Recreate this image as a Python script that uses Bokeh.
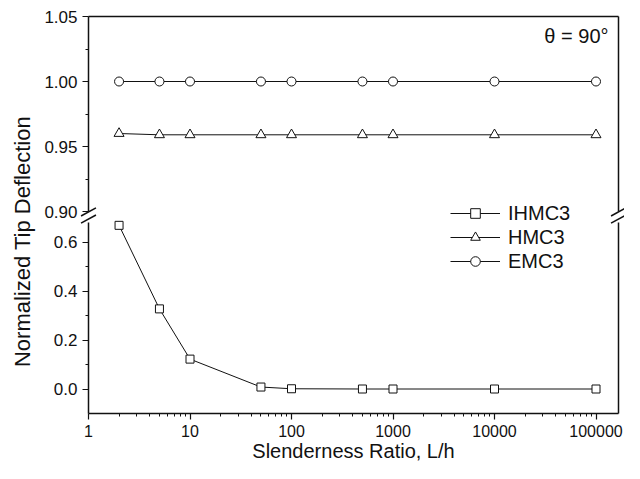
import math
from bokeh.plotting import figure
from bokeh.models import (Range1d, LinearAxis, LogAxis, FixedTicker, PrintfTickFormatter,
                          Label, Legend, LegendItem)
from bokeh.embed import file_html
from bokeh.resources import INLINE

# ---------------- data ----------------
ratio = [2, 5, 10, 50, 100, 500, 1000, 10000, 100000]
ihmc3 = [0.668, 0.327, 0.122, 0.008, 0.001, 0.0, 0.0, 0.0, 0.0]
hmc3 = [0.960, 0.959, 0.959, 0.959, 0.959, 0.959, 0.959, 0.959, 0.959]
emc3 = [1.0, 1.0, 1.0, 1.0, 1.0, 1.0, 1.0, 1.0, 1.0]

x_ticks = [1, 10, 100, 1000, 10000, 100000]
x_tick_labels = ["1", "10", "100", "1000", "10000", "100000"]
upper_ticks = [0.90, 0.95, 1.00, 1.05]
upper_minor = [0.925, 0.975, 1.025]
lower_ticks = [0.0, 0.2, 0.4, 0.6]
lower_minor = [0.1, 0.3, 0.5]

# ---------------- layout (canvas pixels) ----------------
W, H = 624, 463
PX_DEC = 101.5                       # pixels per decade on x
X_LEFT_PX, X_RIGHT_PX = 88, 618      # plot box, left / right
Y_TOP_PX, Y_BOT_PX = 16, 413         # plot box, top / bottom
UP_PX, LO_PX = 1300.0, 245.0         # pixels per unit, upper / lower y segment
LO_BOTTOM, UP_TOP = -0.1, 1.05
LO_BOUND_TOP = 0.68
BREAK_PX, BREAK_HALF_GAP = 215, 3.6

x_of = lambda px: 10 ** ((px - X_LEFT_PX) / PX_DEC)
x_start, x_end = x_of(0), x_of(W)
x_plot_end = x_of(X_RIGHT_PX)
lo_start = LO_BOTTOM - (H - Y_BOT_PX) / LO_PX
lo_end = LO_BOTTOM + Y_BOT_PX / LO_PX
up_start = UP_TOP - (H - Y_TOP_PX) / UP_PX
up_end = UP_TOP + Y_TOP_PX / UP_PX
up_of = lambda py: UP_TOP - (py - Y_TOP_PX) / UP_PX

FONT = "Liberation Sans"
INK = "#111111"

p = figure(width=W, height=H, x_axis_type="log", x_axis_location=None, y_axis_location=None,
           x_range=Range1d(x_start, x_end), y_range=Range1d(lo_start, lo_end),
           output_backend="svg", toolbar_location=None,
           min_border=0, min_border_left=0, min_border_right=0,
           min_border_top=0, min_border_bottom=0)
p.extra_y_ranges = {"top": Range1d(up_start, up_end)}
p.outline_line_color = None
p.background_fill_color = "white"
p.border_fill_color = "white"
p.xgrid.visible = False
p.ygrid.visible = False


def style_axis(ax, font_size="17px"):
    ax.axis_line_color = INK
    ax.axis_line_width = 1.5
    ax.major_tick_line_color = INK
    ax.minor_tick_line_color = INK
    ax.major_tick_line_width = 1.2
    ax.minor_tick_line_width = 1.0
    ax.major_tick_in = 0
    ax.major_tick_out = 6
    ax.minor_tick_in = 0
    ax.minor_tick_out = 3
    ax.major_label_text_font = FONT
    ax.major_label_text_font_size = font_size
    ax.major_label_text_color = INK


def border_axis(ax):
    ax.ticker = FixedTicker(ticks=[])
    ax.axis_line_color = INK
    ax.axis_line_width = 1.5
    ax.major_tick_line_color = None
    ax.minor_tick_line_color = None
    ax.major_tick_out = 0
    ax.minor_tick_out = 0
    ax.major_label_text_font_size = "0px"


# bottom x axis
xminor = [k * 10 ** n for n in range(0, 6) for k in range(2, 10) if k * 10 ** n < x_plot_end]
xax = LogAxis(ticker=FixedTicker(ticks=x_ticks, minor_ticks=xminor),
              major_label_overrides=dict(zip(x_ticks, x_tick_labels)),
              axis_label="Slenderness Ratio, L/h",
              bounds=(1, x_plot_end), fixed_location=LO_BOTTOM)
style_axis(xax, "16px")
xax.major_label_standoff = 5
xax.axis_label_standoff = 0
xax.axis_label_text_font = FONT
xax.axis_label_text_font_size = "20px"
xax.axis_label_text_font_style = "normal"
xax.axis_label_text_color = INK
p.add_layout(xax, "below")

# top border
tax = LogAxis(bounds=(1, x_plot_end), fixed_location=UP_TOP, y_range_name="top")
border_axis(tax)
p.add_layout(tax, "above")

# left axes (lower and upper segment)
lax = LinearAxis(ticker=FixedTicker(ticks=lower_ticks, minor_ticks=lower_minor),
                 formatter=PrintfTickFormatter(format="%.1f"),
                 bounds=(LO_BOTTOM, LO_BOUND_TOP), fixed_location=1)
style_axis(lax)
lax.major_label_standoff = 5
p.add_layout(lax, "left")

uax = LinearAxis(ticker=FixedTicker(ticks=upper_ticks, minor_ticks=upper_minor),
                 formatter=PrintfTickFormatter(format="%.2f"),
                 bounds=(upper_ticks[0], UP_TOP), fixed_location=1, y_range_name="top")
style_axis(uax)
uax.major_label_standoff = 5
p.add_layout(uax, "left")

# right border (two segments)
rax1 = LinearAxis(bounds=(LO_BOTTOM, LO_BOUND_TOP), fixed_location=x_plot_end)
border_axis(rax1)
p.add_layout(rax1, "right")
rax2 = LinearAxis(bounds=(upper_ticks[0], UP_TOP), fixed_location=x_plot_end, y_range_name="top")
border_axis(rax2)
p.add_layout(rax2, "right")

# axis-break marks (two slanted strokes on each side)
brk_y = [up_of(BREAK_PX - BREAK_HALF_GAP), up_of(BREAK_PX + BREAK_HALF_GAP)]
p.scatter([1, 1, x_plot_end, x_plot_end], brk_y + brk_y, marker="dash", size=17,
          angle=0.5, line_color=INK, line_width=1.5, y_range_name="top")

# ---------------- series ----------------
series = [
    ("IHMC3", ihmc3, "square", "default", 8),
    ("HMC3", hmc3, "triangle", "top", 10),
    ("EMC3", emc3, "circle", "top", 9),
]
items = []
for name, ys, marker, rng, size in series:
    ln = p.line(ratio, ys, line_color=INK, line_width=1, y_range_name=rng)
    sc = p.scatter(ratio, ys, marker=marker, size=size, fill_color="white",
                   line_color=INK, line_width=1, y_range_name=rng)
    items.append(LegendItem(label=name, renderers=[ln, sc]))

legend = Legend(items=items, location=(450, H - 273), padding=0, spacing=0, margin=0,
                glyph_width=50, glyph_height=24, label_height=24, label_standoff=8,
                label_text_font=FONT, label_text_font_size="20px", label_text_color=INK,
                border_line_color=None, background_fill_alpha=0)
p.add_layout(legend)

# ---------------- annotations (screen px from bottom-left) ----------------
p.add_layout(Label(x=22, y=H - 241, x_units="screen", y_units="screen",
                   text="Normalized Tip Deflection", angle=math.pi / 2,
                   text_align="center", text_baseline="middle",
                   text_font=FONT, text_font_size="22px", text_color=INK))
p.add_layout(Label(x=608, y=H - 35, x_units="screen", y_units="screen",
                   text="θ = 90°", text_align="right", text_baseline="middle",
                   text_font=FONT, text_font_size="20px", text_color=INK))

open("out.html", "w").write(file_html(p, INLINE))
